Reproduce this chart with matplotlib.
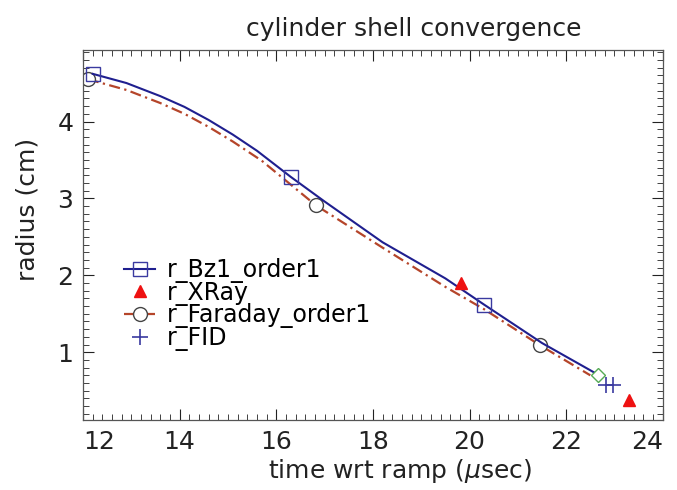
import matplotlib
matplotlib.use("Agg")
import matplotlib.pyplot as plt
from matplotlib.ticker import MultipleLocator

plt.rcParams['font.family'] = ['DejaVu Sans']

# Bz1 order1 (solid blue line), squares at selected points
bz_t = [12.2, 12.9, 13.6, 14.1, 14.6, 15.1, 15.6, 16.3, 17.0, 18.2, 19.5, 20.3, 21.5, 22.6]
bz_r = [4.62, 4.50, 4.33, 4.19, 4.02, 3.83, 3.62, 3.28, 2.96, 2.43, 1.96, 1.62, 1.12, 0.73]
bz_marks = [0, 7, 11]

# Faraday order1 (dash-dot line), circles at selected points
fa_t = [12.1, 12.9, 13.6, 14.1, 14.6, 15.1, 15.7, 16.82, 18.2, 19.5, 20.3, 21.46, 22.5]
fa_r = [4.55, 4.41, 4.24, 4.10, 3.93, 3.74, 3.49, 2.91, 2.36, 1.85, 1.56, 1.09, 0.70]
fa_marks = [0, 7, 11]

# XRay
xr_t = [19.83, 23.3]
xr_r = [1.90, 0.38]

# FID
fid_t = [22.82, 22.97]
fid_r = [0.57, 0.57]

# end point (diamond)
end_t = [22.66]
end_r = [0.70]

x_ticks = [12, 14, 16, 18, 20, 22, 24]
y_ticks = [1, 2, 3, 4]

fig = plt.figure(figsize=(6.77, 4.90), dpi=100)
ax = fig.add_axes([0.1226, 0.143, 0.8564, 0.755])

ax.plot(fa_t, fa_r, linestyle=(0, (5, 2, 1, 2)), color='#b5452a', lw=1.6,
        marker='o', markevery=fa_marks, markersize=10, markerfacecolor='white',
        markeredgecolor='#444444', markeredgewidth=1.0,
        label='r_Faraday_order1', zorder=2)
ax.plot(bz_t, bz_r, '-', color='#1f1f8f', lw=1.5,
        marker='s', markevery=bz_marks, markersize=10, markerfacecolor='none',
        markeredgecolor='#3a3aa0', markeredgewidth=1.0,
        label='r_Bz1_order1', zorder=3)
ax.plot(xr_t, xr_r, linestyle='none', marker='^', color='#ee1111',
        markersize=9, label='r_XRay', zorder=4)
ax.plot(fid_t, fid_r, linestyle='none', marker='+', color='#3a3aa0',
        markersize=11, markeredgewidth=1.2, label='r_FID', zorder=4)
ax.plot(end_t, end_r, linestyle='none', marker='D', markersize=7,
        markerfacecolor='white', markeredgecolor='#55aa55', markeredgewidth=1.0,
        zorder=4)

ax.set_xticks(x_ticks, [str(v) for v in x_ticks])
ax.set_yticks(y_ticks, [str(v) for v in y_ticks])
ax.set_xlim(12, 24)
ax.set_ylim(0.12, 4.93)
ax.xaxis.set_minor_locator(MultipleLocator(0.2))
ax.yaxis.set_minor_locator(MultipleLocator(0.1))
ax.tick_params(which='both', direction='in', top=True, right=True,
               labelsize=18, colors='#222222')
ax.tick_params(which='major', length=8, width=0.8, pad=7)
ax.tick_params(which='minor', length=4, width=0.6)
for s in ax.spines.values():
    s.set_color('#555555')
    s.set_linewidth(0.9)

for lab in ax.get_xticklabels():
    if lab.get_text() == str(x_ticks[0]):
        lab.set_horizontalalignment('left')
    elif lab.get_text() == str(x_ticks[-1]):
        lab.set_horizontalalignment('right')

ax.set_xlabel('time wrt ramp ($\\mu$sec)', fontsize=18, color='#222222')
ax.xaxis.set_label_coords(0.547, -0.10)
ax.set_ylabel('radius (cm)', fontsize=18, color='#222222')
ax.yaxis.set_label_coords(-0.075, 0.57)
ax.set_title('cylinder shell convergence', fontsize=18, color='#222222',
             pad=10, x=0.57)

handles, labels = ax.get_legend_handles_labels()
order = [labels.index(l) for l in ['r_Bz1_order1', 'r_XRay', 'r_Faraday_order1', 'r_FID']]
ax.legend([handles[i] for i in order], [labels[i] for i in order],
          loc='upper left', bbox_to_anchor=(0.055, 0.463), frameon=False,
          fontsize=17, labelspacing=-0.1, handlelength=1.3, handletextpad=0.5,
          borderaxespad=0)

fig.savefig('out.png', dpi=100)
